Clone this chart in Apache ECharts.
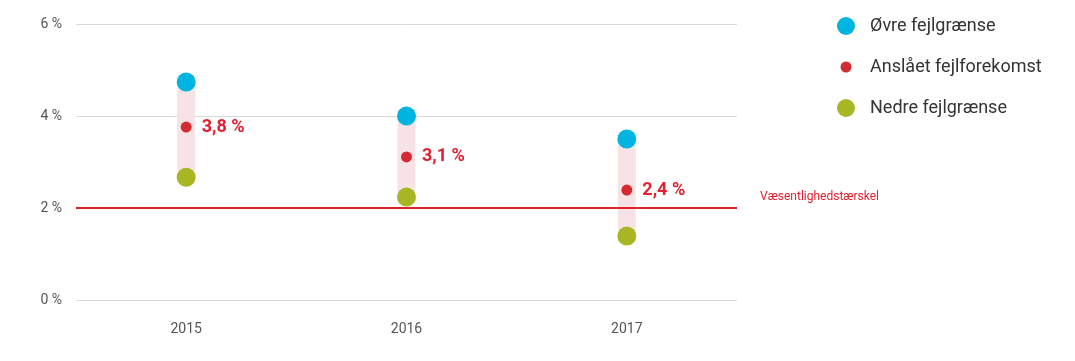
<!DOCTYPE html>
<html><head><meta charset="utf-8">
<script src="https://cdn.jsdelivr.net/npm/echarts@6/dist/echarts.min.js"></script>
<style>html,body{margin:0;padding:0;background:#fff}#c{width:1075px;height:361px}</style>
</head><body><div id="c"></div>
<script>
const categories = ['2015', '2016', '2017'];
const upper = [4.74, 4.0, 3.5];
const estimate = [3.76, 3.11, 2.39];
const estimateLabels = ['3,8 %', '3,1 %', '2,4 %'];
const lower = [2.67, 2.24, 1.39];
const threshold = 2;
const yTicks = [0, 2, 4, 6];

const FONT = 'Roboto, sans-serif';
const redDot = 'image://data:image/svg+xml;utf8,' + encodeURIComponent('<svg xmlns="http://www.w3.org/2000/svg" width="18" height="18"><circle cx="9" cy="9" r="5.5" fill="#d42a32"/></svg>');

const chart = echarts.init(document.getElementById('c'));
chart.setOption({
  animation: false,
  textStyle: { fontFamily: FONT },
  grid: { left: 76, right: 338, top: 24, bottom: 61 },
  legend: {
    orient: 'vertical', left: 837, top: 17, padding: 0, itemWidth: 18, itemHeight: 18, itemGap: 23,
    textStyle: { fontFamily: FONT, fontSize: 18, color: '#333', padding: [0, 0, 0, 10] },
    data: [
      { name: 'Øvre fejlgrænse', icon: 'circle' },
      { name: 'Anslået fejlforekomst', icon: redDot },
      { name: 'Nedre fejlgrænse', icon: 'circle' }
    ]
  },
  xAxis: {
    type: 'category', data: categories,
    axisLine: { show: false }, axisTick: { show: false },
    axisLabel: { color: '#555', fontSize: 14, margin: 22, fontFamily: FONT }
  },
  yAxis: {
    type: 'value', min: yTicks[0], max: yTicks[yTicks.length - 1], interval: 2,
    axisLine: { show: false }, axisTick: { show: false },
    splitLine: { lineStyle: { color: '#d9d9d9', width: 1 } },
    axisLabel: { color: '#555', fontSize: 14, margin: 14, formatter: '{value} %', fontFamily: FONT }
  },
  series: [
    { type: 'bar', stack: 'r', data: lower, barWidth: 18, itemStyle: { color: 'transparent' }, silent: true },
    { type: 'bar', stack: 'r', data: upper.map((u, i) => u - lower[i]), barWidth: 18,
      itemStyle: { color: '#f7e3e5', borderRadius: 9 }, silent: true,
      markLine: {
        silent: true, symbol: 'none',
        lineStyle: { color: '#e2202f', width: 2, type: 'solid' },
        label: { show: true, position: 'end', distance: 23,
          formatter: '{a|Væsentlighedstærskel}\n{a| }',
          rich: { a: { color: '#e2202f', fontSize: 12, fontFamily: FONT, lineHeight: 22 } } },
        data: [{ yAxis: threshold }]
      }
    },
    { name: 'Øvre fejlgrænse', type: 'scatter', data: upper, symbolSize: 19, itemStyle: { color: '#00b4e2', opacity: 1 }, z: 5 },
    { name: 'Anslået fejlforekomst', type: 'scatter', data: estimate, symbolSize: 11, itemStyle: { color: '#d42a32', opacity: 1 }, z: 5,
      label: { show: true, position: 'right', distance: 10, formatter: p => estimateLabels[p.dataIndex], color: '#e2202f', fontSize: 18, fontWeight: 'bold', fontFamily: FONT } },
    { name: 'Nedre fejlgrænse', type: 'scatter', data: lower, symbolSize: 19, itemStyle: { color: '#a8b624', opacity: 1 }, z: 5 }
  ]
});
</script></body></html>
